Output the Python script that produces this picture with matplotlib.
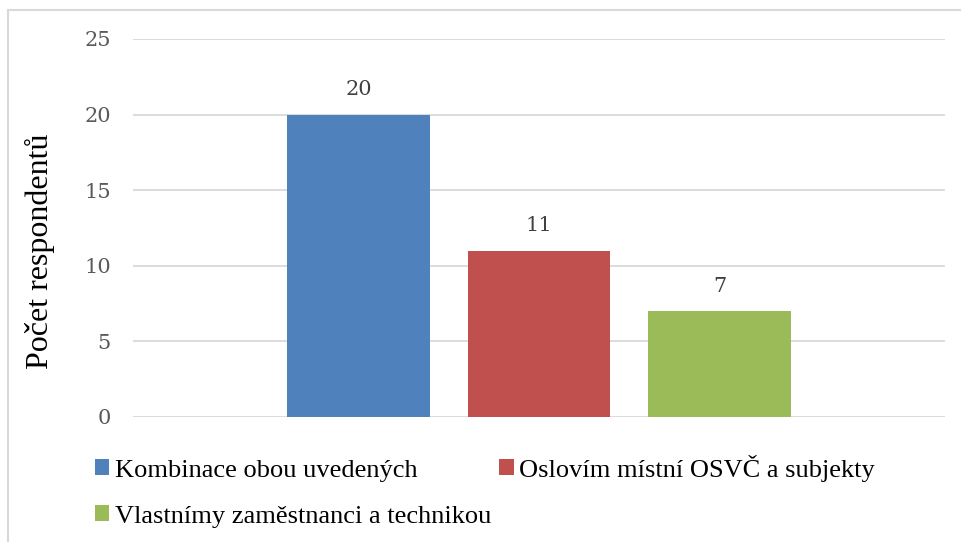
import matplotlib.pyplot as plt
from matplotlib.font_manager import FontProperties
from matplotlib.patches import Rectangle

# data
labels = ["Kombinace obou uvedených", "Oslovím místní OSVČ a subjekty",
          "Vlastnímy zaměstnanci a technikou"]
values = [20, 11, 7]
colors = ["#4F81BD", "#C0504D", "#9BBB59"]
positions = [-1, 0, 1]
yticks = [0, 5, 10, 15, 20, 25]

serif = FontProperties(family="Liberation Serif", size=19)
num_font = FontProperties(family="DejaVu Serif", size=15)

fig = plt.figure(figsize=(9.61, 5.42), dpi=100)
ax = fig.add_axes([133 / 961, 1 - 417 / 542, (945 - 133) / 961, (417 - 39) / 542])

bars = []
for pos, val, col, lab in zip(positions, values, colors, labels):
    b = ax.bar(pos, val, width=0.79, color=col, label=lab, zorder=3)
    bars.append(b)
    ax.annotate(str(val), (pos, val), xytext=(0, 11), textcoords="offset points",
                ha="center", va="bottom", fontproperties=num_font,
                color="#404040")

ax.set_xlim(-2.25, 2.25)
ax.set_ylim(0, 25)
ax.set_yticks(yticks)
ax.set_xticks([])
ax.yaxis.grid(True, color="#D9D9D9", linewidth=1.3, zorder=0)
for s in ax.spines.values():
    s.set_visible(False)
ax.tick_params(axis="y", length=0, pad=16, labelcolor="#595959")
for t in ax.get_yticklabels():
    t.set_fontproperties(num_font)

ax.set_ylabel("Počet respondentů",
              fontproperties=FontProperties(family="Liberation Serif", size=23))
ax.yaxis.set_label_coords((55 - 133) / 812, (417 - 251) / 378)

# legend: column-first fill, so order blue, green, red
handles = [bars[0], bars[2], bars[1]]
fig.legend(handles, [labels[0], labels[2], labels[1]], ncol=2,
           loc="upper left", bbox_to_anchor=(84 / 961, 1 - 444 / 542),
           frameon=False, prop=serif,
           handlelength=0.55, handleheight=0.55, handletextpad=0.22,
           columnspacing=0.3, labelspacing=0.9, borderaxespad=0)

# light chart border
fig.patches.append(Rectangle((8 / 961, -0.1), 1.2, 1.1 - 9.5 / 542,
                             transform=fig.transFigure, fill=False,
                             edgecolor="#D9D9D9", linewidth=1.5))

fig.savefig("out.png", dpi=100)
